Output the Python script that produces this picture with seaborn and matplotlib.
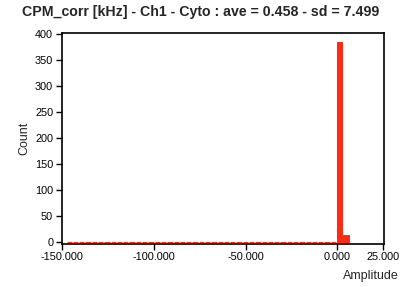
import numpy as np
import pandas as pd
import seaborn as sns
import matplotlib
matplotlib.use("Agg")
import matplotlib.pyplot as plt
from matplotlib.ticker import FuncFormatter

# Histogram data
bin_start = -148.0
bin_width = 3.433
n_bins = 45
counts = [1] + [0] * 42 + [383, 14]
title = "CPM_corr [kHz] - Ch1 - Cyto : ave = 0.458 - sd = 7.499"
xticks = [-150, -100, -50, 0, 25]
yticks = [0, 50, 100, 150, 200, 250, 300, 350, 400]

edges = bin_start + bin_width * np.arange(n_bins + 1)
centers = (edges[:-1] + edges[1:]) / 2
df = pd.DataFrame({"Amplitude": centers, "Count": counts})

sns.set_style("ticks")
plt.rcParams["font.family"] = ["Liberation Sans", "DejaVu Sans"]

fig = plt.figure(figsize=(4.08, 2.87), dpi=100)
ax = fig.add_axes([61.5 / 408, 1 - 244 / 287, (384 - 61.5) / 408, (244 - 33) / 287])

sns.histplot(data=df, x="Amplitude", weights="Count", binwidth=bin_width,
             binrange=(float(edges[0]), float(edges[-1])), shrink=0.84,
             color="#ff2a14", edgecolor="#ff2a14", linewidth=0.75, alpha=1.0, ax=ax)

ax.set_xlim(-150.5, 25.5)
ax.set_ylim(-3, 401)
ax.set_xticks(xticks)
ax.set_yticks(yticks)
ax.xaxis.set_major_formatter(FuncFormatter(lambda v, p: f"{v:.3f}"))
ax.tick_params(direction="out", length=4, width=1, labelsize=7.8, colors="black", pad=2)
for s in ax.spines.values():
    s.set_visible(True)
    s.set_linewidth(1.2)
    s.set_color("black")
    s.set_zorder(0.5)

ax.set_ylabel("Count", fontsize=9)
ax.yaxis.set_label_coords(-0.116, 0.5)
ax.yaxis.label.set_verticalalignment("center")
ax.set_xlabel("Amplitude", fontsize=9)
ax.xaxis.set_label_coords(1.047, -0.154)
ax.xaxis.label.set_horizontalalignment("right")
ax.xaxis.label.set_verticalalignment("center")

fig.text(200.5 / 408, 1 - 12 / 287, title, ha="center", va="center",
         fontsize=10.2, fontweight="bold")

fig.savefig("out.png", dpi=100)
